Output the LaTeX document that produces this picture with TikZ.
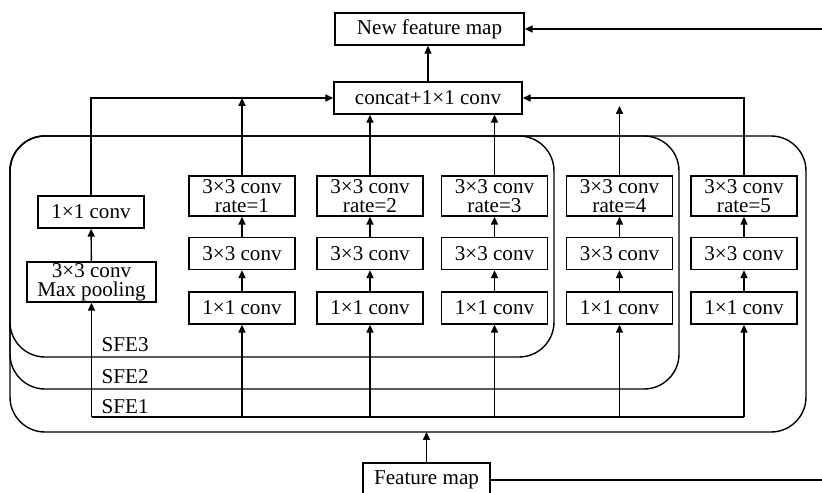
\documentclass[tikz,border=0pt]{standalone}
\usepackage{fontspec}
\setmainfont{Liberation Serif}
\usepackage{tikz}
\usetikzlibrary{arrows.meta, positioning}

\begin{document}
\begin{tikzpicture}[x=0.02cm, y=-0.02cm, line width=0.8pt,
            box/.style={rectangle, draw, minimum width=2.12cm, minimum height=0.64cm,
                        inner xsep=1pt, inner ysep=0pt,
                        font=\fontsize{12}{11}\selectfont, align=center},
            tall/.style={box, minimum height=0.8cm},
            arr/.style={-{Triangle[length=4.5pt, width=4pt]}},
            sfe/.style={rounded corners=0.7cm},
            lbl/.style={anchor=west, inner sep=0pt, font=\fontsize{12}{14}\selectfont}
          ]
          \useasboundingbox (0,0) rectangle (822,493);

          % the three nested SFE branches
          \draw[sfe] (10,136) rectangle (806,432);
          \draw[sfe] (10,136) rectangle (679,389);
          \draw[sfe] (10,136) rectangle (554,357);
          \node[lbl] (sfe3) at (101,345) {SFE3};
          \node[lbl] (sfe2) at (101,377) {SFE2};
          \node[lbl] (sfe1) at (101,407) {SFE1};

          \node[box, minimum width=3.78cm] (newmap) at (429.5,29) {New feature map};
          \node[box, minimum width=3.76cm] (concat) at (428,98)  {concat+1×1 conv};

          % pooling branch
          \node[box]                        (c0)   at (91,212)  {1×1 conv};
          \node[tall, minimum width=2.58cm] (pool) at (91.5,282) {3×3 conv\\Max pooling};

          % dilated branches
          \node[tall] (r1) at (242,196) {3×3 conv\\rate=1};
          \node[box]  (m1) at (242,253.5) {3×3 conv};
          \node[box]  (p1) at (242,308) {1×1 conv};
          \node[tall] (r2) at (370,196) {3×3 conv\\rate=2};
          \node[box]  (m2) at (370,253.5) {3×3 conv};
          \node[box]  (p2) at (370,308) {1×1 conv};
          \node[tall] (r3) at (494.5,196) {3×3 conv\\rate=3};
          \node[box]  (m3) at (494.5,253.5) {3×3 conv};
          \node[box]  (p3) at (494.5,308) {1×1 conv};
          \node[tall] (r4) at (619.5,196) {3×3 conv\\rate=4};
          \node[box]  (m4) at (619.5,253.5) {3×3 conv};
          \node[box]  (p4) at (619.5,308) {1×1 conv};
          \node[tall] (r5) at (744,196) {3×3 conv\\rate=5};
          \node[box]  (m5) at (744,253.5) {3×3 conv};
          \node[box]  (p5) at (744,308) {1×1 conv};

          \node[box, minimum width=2.54cm, minimum height=0.68cm] (fmap) at (426.5,480) {Feature map};

          \coordinate (bus)    at (0,417);
          \coordinate (sfebot) at (0,432);
          \coordinate (edge)   at (822,0);
          \coordinate (r4end)  at (619.5,106);

          % input side
          \draw[arr] (fmap.north) -- (fmap.north |- sfebot);
          \draw (fmap.east) -- (fmap.east -| edge);
          \draw (pool.south |- bus) -- (p5.south |- bus);
          \draw[arr] (pool.south |- bus) -- (pool.south);
          \draw[arr] (p1.south |- bus) -- (p1.south);
          \draw[arr] (p2.south |- bus) -- (p2.south);
          \draw[arr] (p3.south |- bus) -- (p3.south);
          \draw[arr] (p4.south |- bus) -- (p4.south);
          \draw[arr] (p5.south |- bus) -- (p5.south);

          % inside the branches
          \draw[arr] (pool) -- (c0);
          \draw[arr] (p1) -- (m1);
          \draw[arr] (m1) -- (r1);
          \draw[arr] (p2) -- (m2);
          \draw[arr] (m2) -- (r2);
          \draw[arr] (p3) -- (m3);
          \draw[arr] (m3) -- (r3);
          \draw[arr] (p4) -- (m4);
          \draw[arr] (m4) -- (r4);
          \draw[arr] (p5) -- (m5);
          \draw[arr] (m5) -- (r5);

          % output side
          \draw[arr] (c0.north) |- (concat.west);
          \draw[arr] (r1.north) -- (r1.north |- concat.west);
          \draw[arr] (r2.north) -- (r2.north |- concat.south);
          \draw[arr] (r3.north) -- (r3.north |- concat.south);
          \draw[arr] (r4.north) -- (r4end);
          \draw[arr] (r5.north) |- (concat.east);
          \draw[arr] (concat.north) -- (concat.north |- newmap.south);
          \draw[arr] (newmap.east -| edge) -- (newmap.east);
        \end{tikzpicture}
\end{document}
